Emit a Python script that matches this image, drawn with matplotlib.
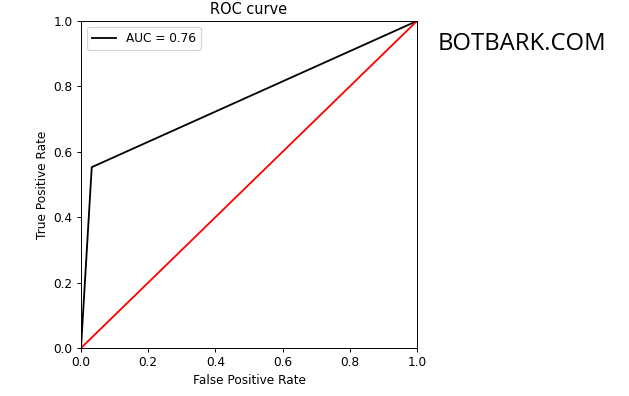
import matplotlib
matplotlib.use("Agg")
import matplotlib.pyplot as plt

# === ROC points
fpr = [0.0, 0.032, 1.0]
tpr = [0.0, 0.553, 1.0]
auc_value = 0.76
diag = [0.0, 1.0]

DPI = 87
fig = plt.figure(figsize=(629 / DPI, 396 / DPI), dpi=DPI)
ax = fig.add_axes([81 / 629, 48 / 396, 336 / 629, 327 / 396])

ax.plot(fpr, tpr, color="black", label="AUC = %0.2f" % auc_value)
ax.plot(diag, diag, color="red")
ax.set_xlim(0, 1)
ax.set_ylim(0, 1)
ax.set_title("ROC curve")
ax.set_xlabel("False Positive Rate")
ax.set_ylabel("True Positive Rate")
ax.legend(loc="upper left")

fig.text(438 / 629, (396 - 50) / 396, "BOTBARK.COM", fontsize=19.8,
         family="Open Sans", va="baseline")

fig.savefig("out.png", dpi=DPI)
